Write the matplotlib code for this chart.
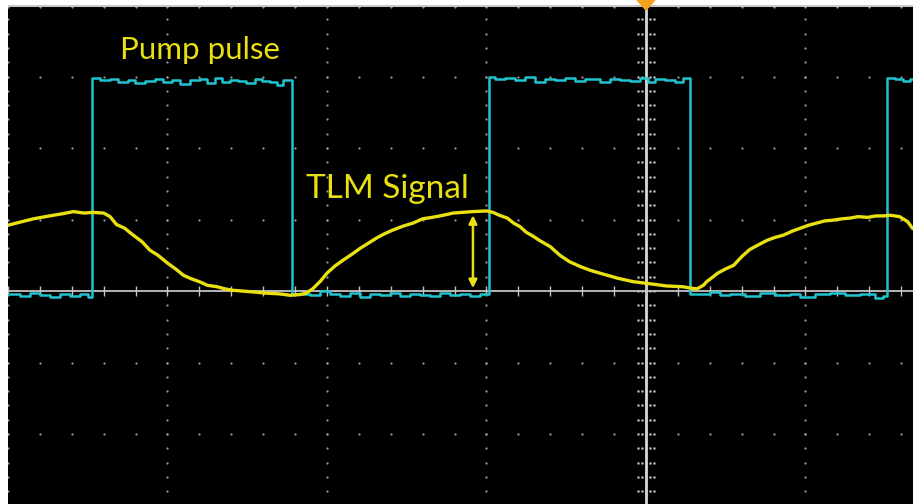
import numpy as np
import matplotlib.pyplot as plt
from matplotlib.patches import Polygon

# screen units are divisions, 0/0 = trigger line / ground line
# TLM signal (yellow trace)
tlm_t = [-4.00, -3.93, -3.84, -3.74, -3.66, -3.59, -3.52, -3.47, -3.40, -3.36,
         -3.32, -3.27, -3.22, -3.16, -3.11, -3.06, -3.00, -2.95, -2.90, -2.85,
         -2.80, -2.75, -2.69, -2.64, -2.59, -2.48, -2.38, -2.30, -2.23, -2.17,
         -2.13, -2.09, -2.04, -2.00, -1.95, -1.90, -1.84, -1.79, -1.74, -1.69,
         -1.64, -1.59, -1.52, -1.46, -1.40, -1.34, -1.27, -1.21, -1.15, -1.09,
         -1.00, -0.96, -0.92, -0.87, -0.83, -0.79, -0.75, -0.71, -0.67, -0.60,
         -0.54, -0.48, -0.41, -0.35, -0.29, -0.18, -0.08, 0.03, 0.13, 0.23,
         0.28, 0.32, 0.36, 0.38, 0.41, 0.45, 0.50, 0.55, 0.60, 0.65,
         0.70, 0.76, 0.81, 0.86, 0.92, 0.97, 1.02, 1.07, 1.12, 1.17,
         1.23, 1.28, 1.33, 1.39, 1.44, 1.49, 1.53, 1.59, 1.64, 1.67]
tlm_v = [0.92, 0.96, 1.01, 1.05, 1.08, 1.11, 1.09, 1.10, 1.09, 1.04,
         0.93, 0.88, 0.79, 0.69, 0.57, 0.50, 0.39, 0.31, 0.22, 0.17,
         0.13, 0.08, 0.06, 0.03, 0.01, -0.01, -0.03, -0.04, -0.06, -0.05,
         -0.03, 0.03, 0.14, 0.25, 0.35, 0.43, 0.52, 0.60, 0.67, 0.74,
         0.80, 0.85, 0.91, 0.95, 1.01, 1.03, 1.06, 1.09, 1.10, 1.11,
         1.12, 1.10, 1.06, 1.02, 0.95, 0.90, 0.82, 0.77, 0.71, 0.62,
         0.50, 0.41, 0.34, 0.29, 0.25, 0.18, 0.13, 0.10, 0.07, 0.06,
         0.04, 0.03, 0.08, 0.13, 0.18, 0.25, 0.31, 0.36, 0.48, 0.58,
         0.64, 0.71, 0.75, 0.78, 0.84, 0.88, 0.92, 0.95, 0.98, 0.99,
         1.01, 1.02, 1.04, 1.03, 1.05, 1.05, 1.06, 1.04, 0.97, 0.88]

# pump pulse (cyan trace), sample times and levels (held until next sample)
pump_t = [-4.000, -3.925, -3.862, -3.799, -3.737, -3.674, -3.611, -3.549, -3.498,
          -3.473, -3.423, -3.361, -3.310, -3.248, -3.204, -3.141, -3.078, -3.028,
          -2.972, -2.922, -2.859, -2.796, -2.752, -2.702, -2.658, -2.608, -2.558,
          -2.508, -2.451, -2.408, -2.357, -2.313, -2.276,
          -2.219, -2.169, -2.107, -2.044, -1.981, -1.918, -1.856, -1.793, -1.730,
          -1.668, -1.605, -1.542, -1.480, -1.417, -1.354, -1.292, -1.229, -1.166,
          -1.103, -1.041,
          -0.984, -0.947, -0.884, -0.821, -0.759, -0.696, -0.633, -0.571, -0.508,
          -0.445, -0.382, -0.288, -0.226, -0.163, -0.100, -0.038, 0.013, 0.056,
          0.119, 0.182, 0.232,
          0.276, 0.339, 0.401, 0.464, 0.527, 0.621, 0.715, 0.809, 0.903, 0.966,
          1.060, 1.154, 1.248, 1.342, 1.436, 1.486,
          1.511, 1.561, 1.611, 1.655, 1.674]
pump_v = [-0.042, -0.070, -0.028, -0.056, -0.084, -0.042, -0.070, -0.042, -0.084,
          2.979, 2.951, 2.965, 2.923, 2.951, 2.909, 2.937, 2.965, 2.923,
          2.951, 2.895, 2.951, 2.965, 2.909, 2.979, 2.923, 2.951, 2.937,
          2.909, 2.965, 2.937, 2.923, 2.881, 2.951,
          -0.042, -0.042, -0.056, 0.000, -0.042, -0.070, -0.028, -0.084, -0.042,
          -0.056, -0.028, -0.070, -0.042, -0.056, -0.070, -0.028, -0.056, -0.042,
          -0.070, -0.042,
          2.993, 2.965, 2.979, 2.951, 2.993, 2.923, 2.965, 2.951, 2.979,
          2.937, 2.965, 2.923, 2.965, 2.951, 2.937, 2.979, 2.923, 2.965,
          2.951, 2.923, 2.979,
          -0.042, -0.042, -0.014, -0.056, -0.042, -0.070, -0.028, -0.056, -0.042, -0.084,
          -0.042, -0.028, -0.056, -0.042, -0.098, -0.070,
          2.979, 2.965, 2.937, 2.965, 2.965]

arrow_t = -1.085
arrow_span = [0.04, 1.06]

yellow = '#e8e010'
cyan = '#20c4d0'
grid_c = '#9c9c9c'

fig = plt.figure(figsize=(9.13, 5.04), dpi=100, facecolor='white')
ax = fig.add_axes([8 / 913, 0, 905 / 913, 499 / 504])
ax.set_facecolor('black')
ax.set_xlim(-4.0, 1.674)
ax.set_ylim(-2.979, 4.0)
ax.set_axis_off()
ax.add_patch(plt.Rectangle((0, 0), 1, 1, transform=ax.transAxes, color='black', zorder=0))

# graticule: dotted major lines, dots every minor division
xmaj = [-4, -3, -2, -1, 1]
ymaj = [3, 2, 1, -1, -2]
yminor = np.arange(-3.0, 4.01, 0.2)
xminor = np.arange(-4.0, 1.7, 0.2)
for x in xmaj:
    ax.plot(np.full_like(yminor, x), yminor, ls='none', marker='o', ms=1.6,
            mfc=grid_c, mec='none', zorder=1)
for y in ymaj + [3.97]:
    ax.plot(xminor, np.full_like(xminor, y), ls='none', marker='o', ms=1.6,
            mfc=grid_c, mec='none', zorder=1)

# top border, ground line and trigger line
ax.axhline(4.0, color='#c8c8c8', lw=2.2, zorder=2)
ax.axhline(0.0, color='#c4c4c4', lw=1.3, zorder=2)
ax.axvline(0.0, color='#d8d8d8', lw=2.0, zorder=2)
ax.plot(xminor, np.zeros_like(xminor), ls='none', marker='|', ms=7,
        mew=1.0, color='#c4c4c4', zorder=2)
for dx in [-0.05, -0.025, 0.025, 0.05]:
    ax.plot(np.full_like(yminor, dx), yminor, ls='none', marker='o', ms=1.8,
            mfc='#bbbbbb', mec='none', zorder=2)

# traces
ax.plot(pump_t, pump_v, drawstyle='steps-post', color=cyan, lw=1.8, zorder=3)
ax.plot(tlm_t, tlm_v, color=yellow, lw=2.4, zorder=4)

ax.annotate('', xy=(arrow_t, arrow_span[0]), xytext=(arrow_t, arrow_span[1]),
            arrowprops=dict(arrowstyle='<|-|>', color=yellow, lw=1.8,
                            mutation_scale=12, shrinkA=0, shrinkB=0), zorder=5)

# trigger marker at the top
ax.add_patch(Polygon([(-0.056, 4.07), (0.056, 4.07), (0.0, 3.93)], closed=True,
                     color='#f5a020', clip_on=False, zorder=6))

ax.text(-3.30, 3.24, 'Pump pulse', color=yellow, fontsize=22.5, family='Lato',
        ha='left', va='baseline', zorder=6)
ax.text(-2.13, 1.30, 'TLM Signal', color=yellow, fontsize=24, family='Lato',
        ha='left', va='baseline', zorder=6)

fig.savefig('out.png', dpi=100, facecolor='white')
